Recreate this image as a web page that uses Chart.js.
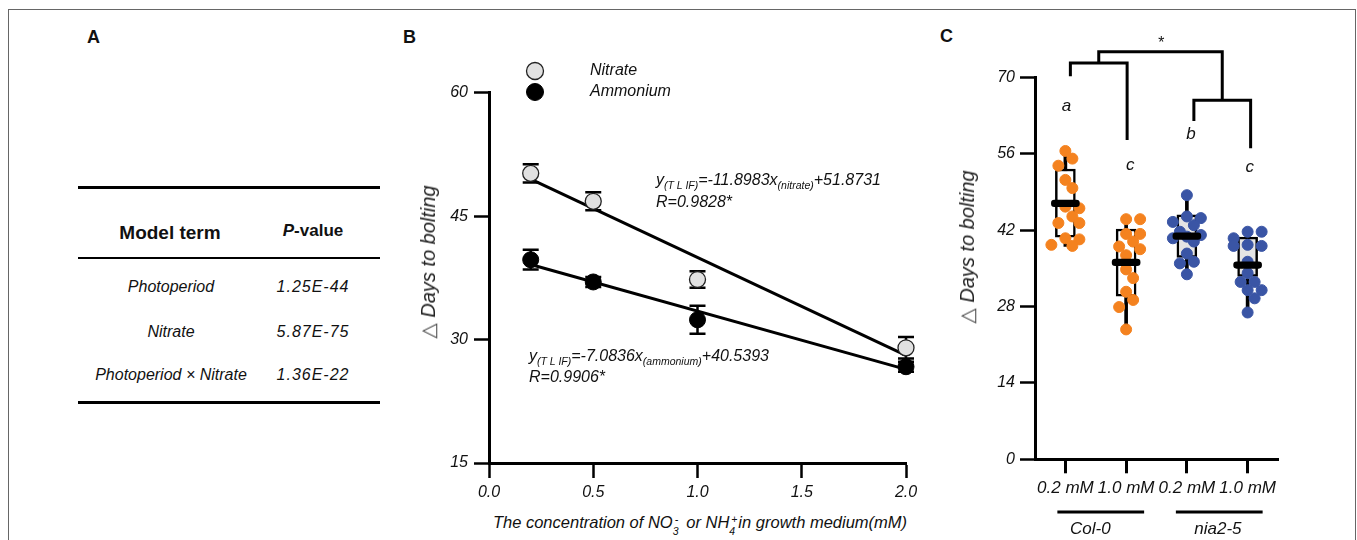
<!DOCTYPE html>
<html>
<head>
<meta charset="utf-8">
<script src="https://cdn.jsdelivr.net/npm/chart.js@4.4.0/dist/chart.umd.min.js"></script>
<style>
html,body{margin:0;padding:0;background:#fff;}
body{width:1357px;height:540px;position:relative;overflow:hidden;font-family:"Liberation Sans",Arial,sans-serif;color:#111;}
.abs{position:absolute;white-space:nowrap;}
#frame{left:8px;top:9px;width:1346px;height:600px;border-left:1px solid #666;border-top:1px solid #666;border-right:1px solid #666;}
.plabel{font-weight:bold;font-size:18px;line-height:18px;}
.rule{background:#000;left:78px;width:302px;}
.cell{text-align:center;font-style:italic;font-size:16px;line-height:20px;height:20px;}
.hdr{text-align:center;font-weight:bold;line-height:22px;height:22px;}
.eq{font-style:italic;font-size:16px;line-height:16px;color:#111;}
.eq sub{font-size:10.5px;vertical-align:-4px;line-height:0;}
.ytitle{font-style:italic;font-size:20px;line-height:20px;color:#222;transform:translate(-50%,-50%) rotate(-90deg);}
.ytitle .tri{font-style:normal;color:#444;font-family:"DejaVu Sans",sans-serif;font-size:20px;}
#bxt{font-style:italic;font-size:16.5px;line-height:16px;text-align:center;}
.ss{display:inline-block;position:relative;width:9px;height:10px;}
.ss .u{position:absolute;left:2px;top:-7px;font-size:10.5px;}
.ss .d{position:absolute;left:0;top:5px;font-size:10.5px;}
canvas{position:absolute;}
</style>
</head>
<body>
<div id="frame" class="abs"></div>

<!-- Panel A -->
<div class="abs plabel" style="left:87px;top:28px">A</div>
<div class="abs rule" style="top:186px;height:3px"></div>
<div class="abs rule" style="top:257px;height:2px"></div>
<div class="abs rule" style="top:401px;height:3px"></div>
<div class="abs hdr" style="left:70px;width:200px;top:222px;font-size:19px">Model term</div>
<div class="abs hdr" style="left:253px;width:120px;top:220px;font-size:17px"><i>P</i>-value</div>
<div id="tableRows"></div>

<!-- Panel B -->
<div class="abs plabel" style="left:403px;top:28px">B</div>
<canvas id="cb" width="530" height="480" style="left:400px;top:20px"></canvas>
<div class="abs ytitle" style="left:428px;top:262px"><span class="tri">△</span> Days to bolting</div>
<div class="abs" id="bxt" style="left:480px;width:440px;top:514px">The concentration of NO<span class="ss"><span class="u">-</span><span class="d">3</span></span> or NH<span class="ss"><span class="u">+</span><span class="d">4</span></span>in growth medium(mM)</div>
<div class="abs eq" id="eqN1" style="left:656px;top:172px"></div>
<div class="abs eq" id="eqN2" style="left:656px;top:194px"></div>
<div class="abs eq" id="eqA1" style="left:529px;top:348px"></div>
<div class="abs eq" id="eqA2" style="left:529px;top:369px"></div>

<!-- Panel C -->
<div class="abs plabel" style="left:940px;top:27px">C</div>
<canvas id="cc" width="420" height="520" style="left:920px;top:20px"></canvas>
<div class="abs ytitle" style="left:967px;top:247px"><span class="tri">△</span> Days to bolting</div>

<script>
// ---------------- Panel A data ----------------
const modelTerms = ['Photoperiod', 'Nitrate', 'Photoperiod × Nitrate'];
const pValues = ['1.25E-44', '5.87E-75', '1.36E-22'];

// ---------------- Panel B data ----------------
const concentrations = [0.2, 0.5, 1.0, 2.0];
const nitrateMean = [50.2, 46.8, 37.3, 29.0];
const nitrateSE = [1.1, 1.1, 1.0, 1.3];
const ammoniumMean = [39.7, 37.0, 32.4, 26.7];
const ammoniumSE = [1.2, 0.6, 1.7, 0.6];
const fitSlopes = [-11.8983, -7.0836];
const fitIntercepts = [51.8731, 40.5393];
const fitR = ['0.9828', '0.9906'];
const fitSubs = ['nitrate', 'ammonium'];
const seriesNames = ['Nitrate', 'Ammonium'];
const bTicksX = [0, 0.5, 1.0, 1.5, 2.0];
const bTicksY = [15, 30, 45, 60];

// ---------------- Panel C data ----------------
const cConditions = ['0.2 mM', '1.0 mM', '0.2 mM', '1.0 mM'];
const cGenotypes = ['Col-0', 'nia2-5'];
const col0Low  = [56.5, 55.1, 53.8, 51.2, 49.7, 46.3, 46.0, 44.5, 43.3, 43.3, 40.5, 40.3, 39.1, 39.3];
const col0High = [44.0, 44.0, 41.3, 41.3, 39.9, 39.0, 38.5, 37.4, 34.8, 33.2, 30.7, 29.2, 27.9, 23.8];
const nia25Low = [48.4, 44.5, 44.2, 43.5, 42.9, 41.7, 41.1, 40.8, 40.5, 39.9, 37.7, 36.2, 35.9, 33.9];
const nia25High= [41.7, 41.7, 40.5, 39.3, 39.1, 39.1, 36.2, 34.1, 32.5, 32.5, 31.0, 31.0, 29.5, 26.9];
const boxMin    = [39.0, 23.6, 33.8, 26.9];
const boxQ1     = [40.7, 29.9, 37.0, 33.5];
const boxMedian = [46.9, 36.1, 40.9, 35.6];
const boxQ3     = [53.2, 42.2, 44.8, 40.7];
const boxMax    = [56.7, 43.9, 48.4, 41.7];
const sigLetters = ['a', 'c', 'b', 'c'];
const cTicksY = [0, 14, 28, 42, 56, 70];

// ---------------- Panel A table ----------------
(function(){
  const rowsY = [277, 322, 365];
  let html = '';
  modelTerms.forEach((t, i) => {
    html += `<div class="abs cell" style="left:70px;width:202px;top:${rowsY[i]}px">${t}</div>`;
    html += `<div class="abs cell" style="left:253px;width:120px;top:${rowsY[i]}px;letter-spacing:1px">${pValues[i]}</div>`;
  });
  document.getElementById('tableRows').innerHTML = html;
})();

// ---------------- Panel B equations ----------------
document.getElementById('eqN1').innerHTML = `y<sub>(T L IF)</sub>=${fitSlopes[0]}x<sub>(${fitSubs[0]})</sub>+${fitIntercepts[0]}`;
document.getElementById('eqN2').innerHTML = `R=${fitR[0]}*`;
document.getElementById('eqA1').innerHTML = `y<sub>(T L IF)</sub>=${fitSlopes[1]}x<sub>(${fitSubs[1]})</sub>+${fitIntercepts[1]}`;
document.getElementById('eqA2').innerHTML = `R=${fitR[1]}*`;

Chart.defaults.font.family = '"Liberation Sans", Arial, sans-serif';
Chart.defaults.color = '#111';

const tickFont = {size: 16, style: 'italic'};

// ---------------- Panel B chart ----------------
const errorBarPlugin = {
  id: 'errorBars',
  beforeDatasetsDraw(chart) {
    const {ctx, scales: {x, y}} = chart;
    ctx.save();
    ctx.strokeStyle = '#000';
    ctx.lineWidth = 2.5;
    [[nitrateMean, nitrateSE], [ammoniumMean, ammoniumSE]].forEach(([m, e]) => {
      concentrations.forEach((c, i) => {
        const px = x.getPixelForValue(c);
        const t = y.getPixelForValue(m[i] + e[i]);
        const b = y.getPixelForValue(m[i] - e[i]);
        ctx.beginPath();
        ctx.moveTo(px, t); ctx.lineTo(px, b);
        ctx.moveTo(px - 8, t); ctx.lineTo(px + 8, t);
        ctx.moveTo(px - 8, b); ctx.lineTo(px + 8, b);
        ctx.stroke();
      });
    });
    ctx.restore();
  }
};
const legendBPlugin = {
  id: 'legendB',
  afterDraw(chart) {
    const {ctx} = chart;
    ctx.save();
    [0, 1].forEach(i => {
      const ds = chart.data.datasets[i];
      const cy = 51 + i * 21;
      ctx.beginPath();
      ctx.arc(135, cy, 8.5, 0, Math.PI * 2);
      ctx.fillStyle = ds.pointBackgroundColor;
      ctx.fill();
      ctx.lineWidth = ds.pointBorderWidth;
      ctx.strokeStyle = ds.pointBorderColor;
      ctx.stroke();
      ctx.fillStyle = '#111';
      ctx.font = 'italic 16px "Liberation Sans", Arial, sans-serif';
      ctx.textBaseline = 'middle';
      ctx.fillText(seriesNames[i], 190, cy);
    });
    ctx.restore();
  }
};

new Chart(document.getElementById('cb'), {
  type: 'scatter',
  data: {
    datasets: [
      {label: seriesNames[0], data: concentrations.map((c, i) => ({x: c, y: nitrateMean[i]})),
       pointRadius: 8, pointBackgroundColor: '#e1e1e1', pointBorderColor: '#222', pointBorderWidth: 1.3, order: 0, clip: false},
      {label: seriesNames[1], data: concentrations.map((c, i) => ({x: c, y: ammoniumMean[i]})),
       pointRadius: 8, pointBackgroundColor: '#000', pointBorderColor: '#000', pointBorderWidth: 1, order: 1, clip: false},
      {type: 'line', label: 'fit nitrate',
       data: [concentrations[0], concentrations[concentrations.length - 1]].map(c => ({x: c, y: fitSlopes[0] * c + fitIntercepts[0]})),
       borderColor: '#000', borderWidth: 3, pointRadius: 0, order: 5, clip: false},
      {type: 'line', label: 'fit ammonium',
       data: [concentrations[0], concentrations[concentrations.length - 1]].map(c => ({x: c, y: fitSlopes[1] * c + fitIntercepts[1]})),
       borderColor: '#000', borderWidth: 3, pointRadius: 0, order: 6, clip: false}
    ]
  },
  options: {
    responsive: false, animation: false, events: [],
    layout: {padding: {left: 0, top: 72.7, right: 24, bottom: 0}},
    plugins: {legend: {display: false}, tooltip: {enabled: false}},
    scales: {
      x: {type: 'linear', min: 0, max: 2,
          afterBuildTicks: s => { s.ticks = bTicksX.map(v => ({value: v})); },
          ticks: {font: tickFont, color: '#111', padding: 5, maxRotation: 0, callback: v => Number(v).toFixed(1)},
          grid: {drawOnChartArea: false, tickLength: 15, tickWidth: 2.5, color: '#000'},
          border: {width: 3, color: '#000'},
          afterFit: s => { s.height = 37; }},
      y: {type: 'linear', min: 15, max: 60,
          afterBuildTicks: s => { s.ticks = bTicksY.map(v => ({value: v})); },
          ticks: {font: tickFont, color: '#111', padding: 6},
          grid: {drawOnChartArea: false, tickLength: 15, tickWidth: 2.5, color: '#000'},
          border: {width: 3, color: '#000'},
          afterFit: s => { s.width = 89; }}
    }
  },
  plugins: [errorBarPlugin, legendBPlugin]
});

// ---------------- Panel C chart ----------------
const groupsC = [col0Low, col0High, nia25Low, nia25High];
const pointColors = ['#f4821f', '#f4821f', '#3a55a5', '#3a55a5'];
const boxFills = ['#ffffff', '#ffffff', '#e4e4e4', '#e4e4e4'];

// deterministic beeswarm (pixel ratio of the C axes: ~60.75 px per category, ~5.457 px per day)
function swarm(values, center) {
  const pxX = 60.75, pxY = 5.457, minD = 10, step = 7, maxK = 4;
  const placed = [];
  const xs = new Array(values.length);
  const idx = values.map((v, i) => i).sort((a, b) => values[b] - values[a]);
  idx.forEach(i => {
    const yp = values[i] * pxY;
    let best = 0, bestD = -1;
    for (let k = 0; k <= maxK; k++) {
      const off = k === 0 ? 0 : (k % 2 ? 1 : -1) * Math.ceil(k / 2) * step;
      const d = placed.reduce((m, p) => Math.min(m, Math.hypot(p.x - off, p.y - yp)), Infinity);
      if (d >= minD) { best = off; bestD = d; break; }
      if (d > bestD) { bestD = d; best = off; }
    }
    placed.push({x: best, y: yp});
    xs[i] = center + best / pxX;
  });
  return xs;
}

const annotCPlugin = {
  id: 'annotC',
  afterDraw(chart) {
    const {ctx, scales: {x, y}} = chart;
    const X = i => x.getPixelForValue(i);
    const Y = v => y.getPixelForValue(v);
    ctx.save();
    ctx.strokeStyle = '#000';
    ctx.lineWidth = 3;
    ctx.lineCap = 'butt';
    const l1 = X(0) + 5, l2 = X(1) + 1, lh = Y(72.6);
    const r1 = X(2) + 7, r2 = X(3) + 3, rh = Y(65.8);
    const th = Y(74.7);
    const lm = (l1 + l2) / 2, rm = (r1 + r2) / 2;
    ctx.beginPath();
    ctx.moveTo(l1, Y(70.2)); ctx.lineTo(l1, lh); ctx.lineTo(l2, lh); ctx.lineTo(l2, Y(58.5));
    ctx.moveTo(r1, Y(62.0)); ctx.lineTo(r1, rh); ctx.lineTo(r2, rh); ctx.lineTo(r2, Y(57.0));
    ctx.moveTo(lm, lh); ctx.lineTo(lm, th); ctx.lineTo(rm, th); ctx.lineTo(rm, rh);
    ctx.stroke();
    ctx.fillStyle = '#111';
    ctx.textAlign = 'center';
    ctx.textBaseline = 'middle';
    ctx.font = 'italic 16px "Liberation Sans", Arial, sans-serif';
    ctx.fillText('*', (lm + rm) / 2, Y(76.2));
    const letterVals = [64.7, 53.9, 59.6, 53.6];
    const letterDx = [1, 4, 4, 2];
    ctx.font = 'italic 17px "Liberation Sans", Arial, sans-serif';
    sigLetters.forEach((s, i) => ctx.fillText(s, X(i) + letterDx[i], Y(letterVals[i])));
    const gy = 492;
    ctx.beginPath();
    ctx.moveTo(X(0) - 8, gy); ctx.lineTo(X(1) + 18, gy);
    ctx.moveTo(X(2) - 11, gy); ctx.lineTo(X(3) + 15, gy);
    ctx.stroke();
    ctx.font = 'italic 17px "Liberation Sans", Arial, sans-serif';
    ctx.fillText(cGenotypes[0], X(0) + 25, 509);
    ctx.fillText(cGenotypes[1], X(2) + 31, 509);
    ctx.restore();
  }
};

const cDatasets = [
  {type: 'bar', label: 'whisker', data: boxMin.map((v, i) => ({x: i, y: [v, boxMax[i]]})),
   backgroundColor: '#000', barThickness: 3, grouped: false, order: 4},
  {type: 'bar', label: 'box', data: boxQ1.map((v, i) => ({x: i, y: [v, boxQ3[i]]})),
   backgroundColor: boxFills, borderColor: '#000', borderWidth: 2.5, borderSkipped: false,
   barThickness: 20, grouped: false, order: 3},
  {type: 'bar', label: 'median', data: boxMedian.map((v, i) => ({x: i, y: [v - 0.6, v + 0.6]})),
   backgroundColor: '#000', borderRadius: 3.5, borderSkipped: false, barThickness: 28, grouped: false, order: 0}
];
groupsC.forEach((vals, g) => {
  const xs = swarm(vals, g);
  cDatasets.push({type: 'scatter', label: cConditions[g], data: vals.map((v, i) => ({x: xs[i], y: v})),
    pointRadius: 5.5, pointBackgroundColor: pointColors[g], pointBorderColor: pointColors[g], pointBorderWidth: 1, order: 1, clip: false});
});

new Chart(document.getElementById('cc'), {
  type: 'bar',
  data: {datasets: cDatasets},
  options: {
    responsive: false, animation: false, events: [],
    layout: {padding: {left: 0, top: 57.3, right: 62, bottom: 0}},
    plugins: {legend: {display: false}, tooltip: {enabled: false}},
    scales: {
      x: {type: 'linear', min: -0.5, max: 3.5, offset: false,
          afterBuildTicks: s => { s.ticks = cConditions.map((c, i) => ({value: i})); },
          ticks: {font: {size: 17, style: 'italic'}, color: '#111', padding: 5, maxRotation: 0, autoSkip: false,
                  callback: v => cConditions[v]},
          grid: {drawOnChartArea: false, offset: false, tickLength: 14, tickWidth: 3, color: '#000'},
          border: {width: 3, color: '#000'},
          afterFit: s => { s.height = 80.7; }},
      y: {type: 'linear', min: 0, max: 70, beginAtZero: true,
          afterBuildTicks: s => { s.ticks = cTicksY.map(v => ({value: v})); },
          ticks: {font: tickFont, color: '#111', padding: 5},
          grid: {drawOnChartArea: false, tickLength: 15, tickWidth: 2.5, color: '#000'},
          border: {width: 3, color: '#000'},
          afterFit: s => { s.width = 115; }}
    }
  },
  plugins: [annotCPlugin]
});
</script>
</body>
</html>
